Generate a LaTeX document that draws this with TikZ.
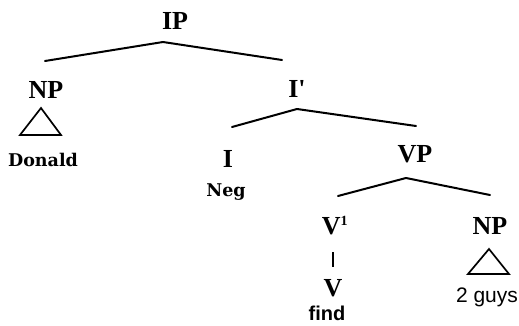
\documentclass[tikz,border=0pt]{standalone}
\usepackage{fontspec}
\setmainfont{Liberation Serif}
\newfontfamily\lbsans{Liberation Sans}
\newfontfamily\dvserif{DejaVu Serif}
\begin{document}
\begin{tikzpicture}[x=1pt,y=-1pt,
  cat/.style={inner sep=0pt,font=\fontsize{26}{30}\selectfont\bfseries},
  sword/.style={inner sep=0pt,font=\fontsize{17.5}{21}\selectfont\dvserif\bfseries},
  word/.style={inner sep=0pt,font=\fontsize{21}{24}\selectfont\lbsans},
  branch/.style={line width=2pt,line cap=round,line join=round},
  tri/.style={line width=1.7pt,line join=miter}]
\useasboundingbox (0,0) rectangle (519,326);
% categories
\node[cat] (IP) at (175,21) {IP};
\node[cat] (NP1) at (46,90) {NP};
\node[cat] (Ibar) at (297,89) {I\textquotesingle};
\node[cat] (I) at (228,159) {I};
\node[cat] (VP) at (415,154) {VP};
\node[cat] (Vbar) at (335,226) {V\textsuperscript{\fontsize{14}{14}\selectfont 1}};
\node[cat] (V) at (333,288) {V};
\node[cat] (NP2) at (490,226) {NP};
% words
\node[sword] (Donald) at (43,160) {Donald};
\node[sword] (Neg) at (226,192) {Neg};
\node[word,font=\fontsize{20}{24}\selectfont\lbsans\bfseries] (find) at (327,313) {find};
\node[word] (guys) at (487,297) {2 guys};
% branch points
\coordinate (ipA) at (163,42);
\coordinate (ipL) at (45,61);
\coordinate (ipR) at (282,60);
\coordinate (ibA) at (297,109);
\coordinate (ibL) at (232,127);
\coordinate (ibR) at (416,126);
\coordinate (vpA) at (406,178);
\coordinate (vpL) at (338,196);
\coordinate (vpR) at (490,195);
\coordinate (vbT) at (333,252);
\coordinate (vbB) at (333,267);
% triangles
\coordinate (t1A) at (41,108);
\coordinate (t1L) at (20,135);
\coordinate (t1R) at (61,135);
\coordinate (t2A) at (489,249);
\coordinate (t2L) at (468,274);
\coordinate (t2R) at (509,274);
\draw[branch] (ipL) -- (ipA) -- (ipR);
\draw[branch] (ibL) -- (ibA) -- (ibR);
\draw[branch] (vpL) -- (vpA) -- (vpR);
\draw[line width=1.6pt] (vbT) -- (vbB);
\draw[tri] (t1A) -- (t1L) -- (t1R) -- cycle;
\draw[tri] (t2A) -- (t2L) -- (t2R) -- cycle;
\end{tikzpicture}
\end{document}
